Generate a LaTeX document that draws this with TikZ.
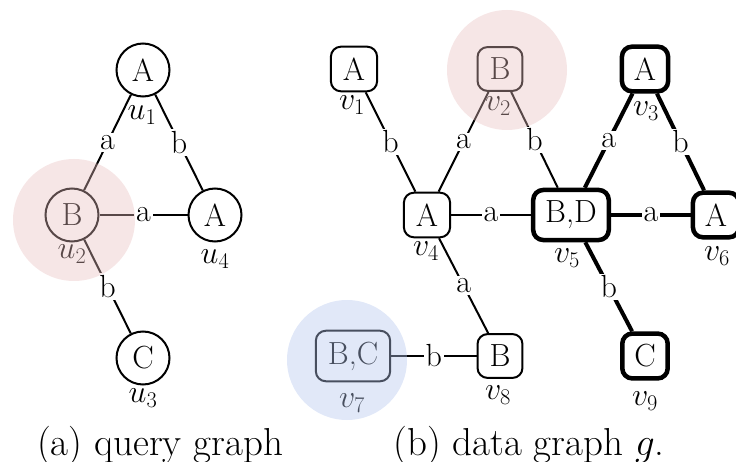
\RequirePackage{fix-cm}
\documentclass[tikz,border=0pt]{standalone}
\begin{document}
\definecolor{pinkov}{RGB}{232,190,190}
\definecolor{blueov}{RGB}{180,198,238}
\begin{tikzpicture}[x=1pt,y=-1pt,
  fnt/.style={font=\fontsize{32}{38}\selectfont},
  qv/.style={fnt, circle, draw, line width=2pt, minimum size=53pt, inner sep=0pt},
  dv/.style={fnt, rectangle, rounded corners=10pt, draw, line width=2pt, inner xsep=12pt, inner ysep=11pt},
  hv/.style={line width=4.5pt},
  el/.style={fnt, fill=white, inner sep=2pt},
  lab/.style={fnt, anchor=north, inner sep=0pt},
  edg/.style={line width=2pt},
  tedg/.style={line width=4pt},
  captxt/.style={font=\fontsize{39}{46}\selectfont, anchor=base, inner sep=0pt},
  ovp/.style={fill=pinkov, fill opacity=0.38},
  ovb/.style={fill=blueov, fill opacity=0.4}]
\useasboundingbox (0,0) rectangle (736,462);
% query graph
\node[qv] (u1) at (143,70) {A};
\node[qv] (u2) at (72,215) {B};
\node[qv] (u4) at (215,215) {A};
\node[qv] (u3) at (143,358) {C};
\draw[edg] (u1) -- node[el]{a} (u2);
\draw[edg] (u1) -- node[el]{b} (u4);
\draw[edg] (u2) -- node[el]{a} (u4);
\draw[edg] (u2) -- node[el]{b} (u3);
\node[lab] (lu1) at (142,106) {$u_1$};
\node[lab] (lu2) at (72,245) {$u_2$};
\node[lab] (lu4) at (215,250) {$u_4$};
\node[lab] (lu3) at (143,389) {$u_3$};
% data graph
\node[dv] (v1) at (354,69) {A};
\node[dv] (v2) at (500,69) {B};
\node[dv,hv] (v3) at (645,69) {A};
\node[dv] (v4) at (427,215) {A};
\node[dv,hv] (v5) at (571,215) {B,D};
\node[dv,hv] (v6) at (716,215) {A};
\node[dv] (v7) at (353,356) {B,C};
\node[dv] (v8) at (500,356) {B};
\node[dv,hv] (v9) at (645,356) {C};
\draw[edg] (v1) -- node[el]{b} (v4);
\draw[edg] (v2) -- node[el]{a} (v4);
\draw[edg] (v2) -- node[el]{b} (v5);
\draw[edg] (v4) -- node[el]{a} (v5);
\draw[edg] (v4) -- node[el]{a} (v8);
\draw[edg] (v7) -- node[el]{b} (v8);
\draw[tedg] (v5) -- node[el]{a} (v3);
\draw[tedg] (v3) -- node[el]{b} (v6);
\draw[tedg] (v5) -- node[el]{a} (v6);
\draw[tedg] (v5) -- node[el]{b} (v9);
\node[lab] (lv1) at (352,96) {$v_1$};
\node[lab] (lv2) at (498,97) {$v_2$};
\node[lab] (lv3) at (646,102) {$v_3$};
\node[lab] (lv4) at (426,242) {$v_4$};
\node[lab] (lv5) at (567,249) {$v_5$};
\node[lab] (lv6) at (717,247) {$v_6$};
\node[lab] (lv7) at (352,394) {$v_7$};
\node[lab] (lv8) at (498,386) {$v_8$};
\node[lab] (lv9) at (645,392) {$v_9$};
% overlays
\fill[ovp] (74,220) circle (61pt);
\fill[ovp] (507,70) circle (60pt);
\fill[ovb] (347,360) circle (60pt);
% captions
\node[captxt] (capa) at (160,455) {(a) query graph};
\node[captxt] (capb) at (529,455) {(b) data graph $g$.};
\end{tikzpicture}
\end{document}
